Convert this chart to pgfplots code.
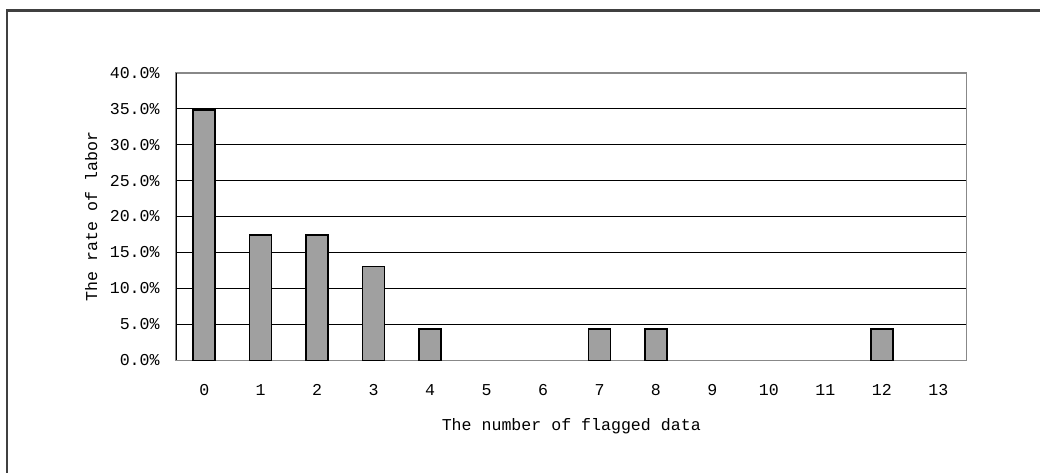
\documentclass[border=0pt]{standalone}
\usepackage{pgfplots}
\pgfplotsset{compat=1.18}
\usepackage{fontspec}
\setmainfont{Liberation Mono}
\definecolor{barfill}{HTML}{A0A0A0}
\definecolor{framegray}{HTML}{404040}
\definecolor{boxgray}{HTML}{888888}

\begin{document}
\begin{tikzpicture}
  \useasboundingbox (0pt,0pt) rectangle (520pt,-236pt);
  % outer chart frame
  \draw[framegray, line width=1.1pt] (3.5pt,-245pt) -- (3.5pt,-5.25pt) -- (530pt,-5.25pt);
  \begin{axis}[
    at={(88pt,-180.15pt)}, anchor=south west,
    scale only axis,
    width=395.25pt, height=143.8pt,
    xmin=-0.5, xmax=13.5,
    ymin=0, ymax=40,
    ytick={0,5,...,40},
    xtick={0,1,...,13},
    major tick length=0pt,
    ymajorgrids,
    grid style={black, line width=0.5pt},
    axis line style={boxgray, line width=0.8pt},
    font=\fontsize{8.3}{10}\selectfont,
    /pgf/number format/assume math mode=true,
    yticklabel={\pgfmathprintnumber[fixed,fixed zerofill,precision=1]{\tick}\%},
    yticklabel style={anchor=east, inner sep=0pt, xshift=-8pt},
    xticklabel style={anchor=center, inner sep=0pt, yshift=-15pt},
    xlabel={The number of flagged data},
    ylabel={The rate of labor},
    xlabel style={at={([yshift=-35.2pt]axis description cs:0.5,0)}, anchor=base, inner sep=0pt},
    ylabel style={at={([xshift=-39.5pt]axis description cs:0,0.5)}, anchor=base, inner sep=0pt},
    label style={font=\fontsize{8.3}{10}\selectfont},
    ybar, bar width=11pt,
  ]
    \addplot[fill=barfill, draw=black, line width=0.8pt] coordinates {
      (0,34.78) (1,17.39) (2,17.39) (3,13.04) (4,4.35)
      (7,4.35) (8,4.35) (12,4.35)
    };
    \draw[black, line width=0.8pt] (axis cs:-0.5,0) -- (axis cs:-0.5,40);
  \end{axis}
\end{tikzpicture}
\end{document}
